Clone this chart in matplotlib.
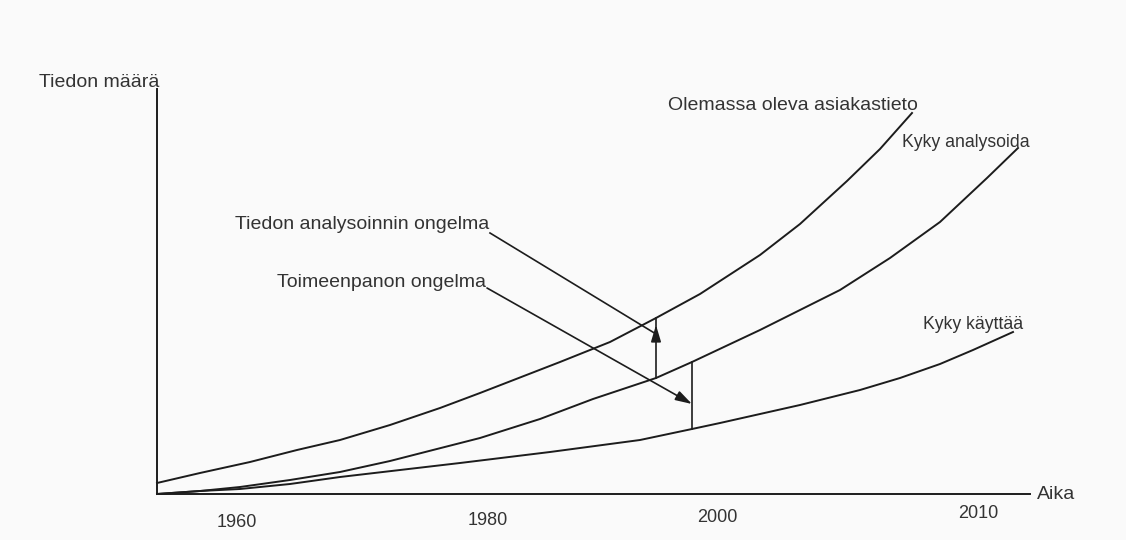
import matplotlib
matplotlib.use('Agg')
import matplotlib.pyplot as plt
import matplotlib.transforms as mtrans
import numpy as np

plt.rcParams['font.family'] = ['Liberation Sans', 'DejaVu Sans']

# schematic curves (arbitrary units, origin at axes corner)
data_x = [0, 43, 93, 140, 183, 233, 283, 323, 403, 453, 499, 543, 583, 603, 643, 690, 723, 755]
data_y = [11, 21, 32, 44, 54, 69, 86, 101, 132, 152, 176, 200, 226, 239, 270, 313, 345, 381]

analyse_x = [0, 43, 83, 133, 183, 233, 276, 323, 383, 436, 499, 535, 603, 683, 733, 783, 830, 861]
analyse_y = [0, 3, 7, 14, 22, 33, 44, 56, 75, 95, 116, 132, 164, 204, 236, 272, 316, 346]

use_x = [0, 43, 83, 133, 183, 243, 303, 393, 483, 535, 563, 643, 703, 743, 783, 816, 856]
use_y = [0, 3, 5, 10, 17, 24, 31, 42, 54, 65, 71, 89, 104, 116, 130, 144, 162]

tick_pos = [80, 331, 560, 821]
tick_labels = ['1960', '1980', '2000', '2010']

gap1_x = 499   # Tiedon analysoinnin ongelma
gap2_x = 535   # Toimeenpanon ongelma

line_col = '#1c1c1c'
text_col = '#333333'

fig = plt.figure(figsize=(11.26, 5.4), dpi=100)
fig.patch.set_facecolor('#fafafa')
ax = fig.add_axes([157 / 1126, 46 / 540, 873 / 1126, 405 / 540])
ax.patch.set_alpha(0)
ax.set_xlim(0, 873)
ax.set_ylim(0, 405)

for s in ['top', 'right']:
    ax.spines[s].set_visible(False)
for s in ['left', 'bottom']:
    ax.spines[s].set_linewidth(1.4)
    ax.spines[s].set_color(line_col)

ax.set_yticks([])
ax.set_xticks(tick_pos, tick_labels)
ax.tick_params(axis='x', length=0, pad=11, labelsize=13, labelcolor=text_col)
# scanned original is slightly tilted, labels drift upward to the right
for lbl, dy in zip(ax.get_xticklabels(), [-5, -3, 0, 4]):
    lbl.set_transform(lbl.get_transform() + mtrans.ScaledTranslation(0, dy / 100, fig.dpi_scale_trans))

ax.plot(data_x, data_y, color=line_col, lw=1.4, clip_on=False)
ax.plot(analyse_x, analyse_y, color=line_col, lw=1.4, clip_on=False)
ax.plot(use_x, use_y, color=line_col, lw=1.4, clip_on=False)

# gaps between curves
g1_lo = np.interp(gap1_x, analyse_x, analyse_y)
g1_hi = np.interp(gap1_x, data_x, data_y)
ax.plot([gap1_x, gap1_x], [g1_lo, g1_hi], color=line_col, lw=1.2)
g2_lo = np.interp(gap2_x, use_x, use_y)
g2_hi = np.interp(gap2_x, analyse_x, analyse_y)
ax.plot([gap2_x, gap2_x], [g2_lo, g2_hi], color=line_col, lw=1.2)

head = dict(arrowstyle='-|>,head_length=1.0,head_width=0.3', mutation_scale=10,
            color=line_col, lw=1.2, shrinkA=0, shrinkB=0)

# arrow 1: diagonal leader to the first gap, with upward head on the gap line
ax.plot([333, gap1_x], [261, g1_hi - 16], color=line_col, lw=1.2)
ax.annotate('', xy=(gap1_x, g1_hi - 7), xytext=(gap1_x, g1_hi - 20), arrowprops=head)

# arrow 2: diagonal leader ending on the second gap
ax.annotate('', xy=(gap2_x, 90), xytext=(330, 206), arrowprops=head)

fs = 14
ax.text(-118, 407, 'Tiedon määrä', fontsize=fs, color=text_col, va='baseline', clip_on=False)
ax.text(880, -5, 'Aika', fontsize=fs, color=text_col, va='baseline', clip_on=False)
ax.text(511, 384, 'Olemassa oleva asiakastieto', fontsize=fs, color=text_col, va='baseline')
ax.text(745, 347, 'Kyky analysoida', fontsize=12.7, color=text_col, va='baseline', clip_on=False)
ax.text(766, 165, 'Kyky käyttää', fontsize=12.7, color=text_col, va='baseline', clip_on=False)
ax.text(332, 265, 'Tiedon analysoinnin ongelma', fontsize=fs, color=text_col, va='baseline', ha='right')
ax.text(329, 207, 'Toimeenpanon ongelma', fontsize=fs, color=text_col, va='baseline', ha='right')

fig.savefig('out.png', dpi=100, facecolor=fig.get_facecolor())
